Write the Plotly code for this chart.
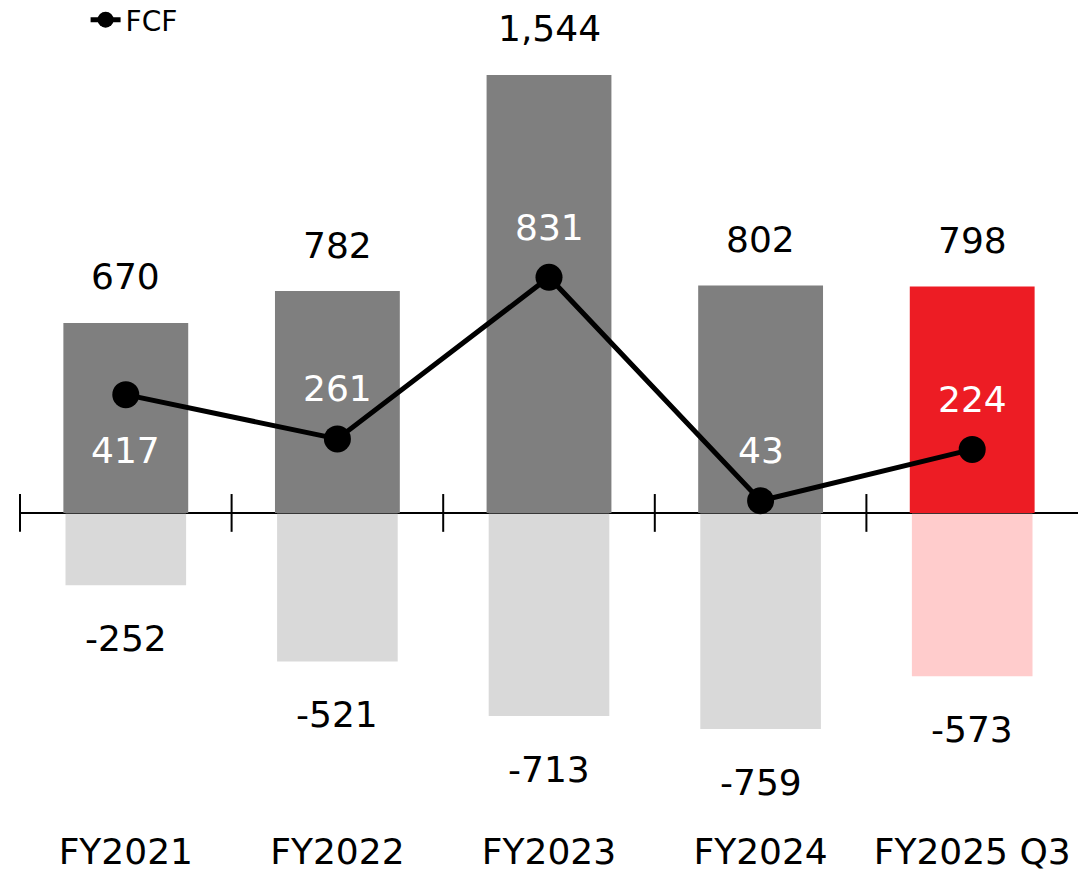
import plotly.graph_objects as go

categories = ["FY2021", "FY2022", "FY2023", "FY2024", "FY2025 Q3"]
inflow = [670, 782, 1544, 802, 798]
outflow = [-252, -521, -713, -759, -573]
fcf = [417, 261, 831, 43, 224]
fcf_label_pos = ["below", "above", "above", "above", "above"]

pos_colors = ["#7f7f7f", "#7f7f7f", "#7f7f7f", "#7f7f7f", "#ed1c24"]
neg_colors = ["#d9d9d9", "#d9d9d9", "#d9d9d9", "#d9d9d9", "#ffcccc"]

FONT = "DejaVu Sans"
xs = list(range(len(categories)))
ymin, ymax = -1012, 1773

fig = go.Figure()
fig.add_trace(go.Bar(x=xs, y=inflow, marker=dict(color=pos_colors, line=dict(width=0)),
                     width=0.59, showlegend=False, hoverinfo="skip"))
fig.add_trace(go.Bar(x=xs, y=outflow, base=[-3] * len(xs),
                     marker=dict(color=neg_colors, line=dict(width=0)),
                     width=0.57, showlegend=False, hoverinfo="skip"))
# boundary ticks on the zero line
fig.add_trace(go.Scatter(x=[i - 0.5 for i in xs], y=[0] * len(xs), mode="markers",
                         marker=dict(symbol="line-ns", size=27, line=dict(width=2, color="black")),
                         showlegend=False, hoverinfo="skip", cliponaxis=False))
fig.add_trace(go.Scatter(x=xs, y=fcf, mode="lines+markers", name="FCF",
                         line=dict(color="black", width=5),
                         marker=dict(color="black", size=27), cliponaxis=False))

ann = []
for i, v in enumerate(inflow):
    ann.append(dict(x=i, y=v, text=f"{v:,}", showarrow=False, yshift=46, yanchor="middle",
                    font=dict(family=FONT, size=36, color="black")))
for i, v in enumerate(outflow):
    ann.append(dict(x=i, y=v, text=f"{v:,}", showarrow=False, yshift=-54, yanchor="middle",
                    font=dict(family=FONT, size=36, color="black")))
for i, v in enumerate(fcf):
    sh = 50 if fcf_label_pos[i] == "above" else -56
    ann.append(dict(x=i, y=v, text=f"{v:,}", showarrow=False, yshift=sh, yanchor="middle",
                    font=dict(family=FONT, size=36, color="white")))

fig.update_layout(
    width=1078, height=871,
    margin=dict(l=20, r=0, t=10, b=71, autoexpand=False),
    paper_bgcolor="white", plot_bgcolor="white",
    barmode="overlay",
    annotations=ann,
    font=dict(family=FONT, color="black"),
    showlegend=True,
    legend=dict(x=0.062, y=1.019, xanchor="left", yanchor="top",
                font=dict(family=FONT, size=28, color="black"),
                bgcolor="rgba(0,0,0,0)"),
    xaxis=dict(range=[-0.5, 4.5], tickmode="array", tickvals=xs, ticktext=categories,
               showgrid=False, zeroline=False, showline=False, automargin=False,
               ticks="outside", ticklen=20, tickcolor="rgba(0,0,0,0)",
               tickfont=dict(family=FONT, size=36, color="black"), fixedrange=True),
    yaxis=dict(range=[ymin, ymax], showgrid=False, showticklabels=False, ticks="",
               automargin=False,
               zeroline=True, zerolinecolor="black", zerolinewidth=2, showline=False),
)

fig.write_html("out.html", config={"displayModeBar": False},
               post_script="document.body.style.margin='0';document.body.style.overflow='hidden';")
